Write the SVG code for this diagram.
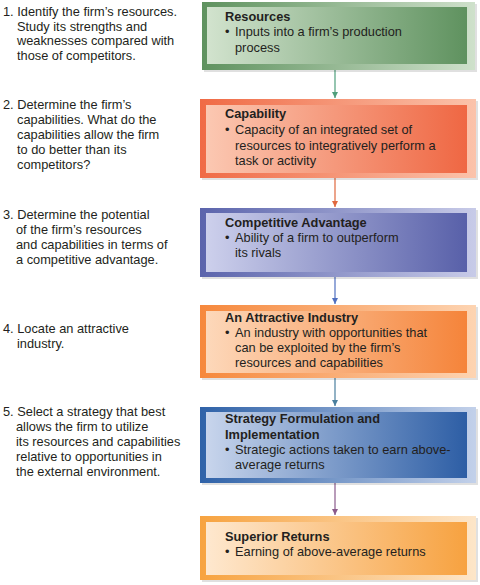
<svg xmlns="http://www.w3.org/2000/svg" width="480" height="585" viewBox="0 0 480 585">
<defs>
<linearGradient id="fG" x1="0" x2="1" y1="0" y2="0"><stop offset="0" stop-color="#5f925f"/><stop offset="1" stop-color="#cfe1cb"/></linearGradient>
<linearGradient id="iG" x1="0" x2="1" y1="0" y2="0"><stop offset="0" stop-color="#d2e3ce"/><stop offset="1" stop-color="#5f925f"/></linearGradient>
<linearGradient id="fR" x1="0" x2="1" y1="0" y2="0"><stop offset="0" stop-color="#f06a45"/><stop offset="1" stop-color="#fbc3ab"/></linearGradient>
<linearGradient id="iR" x1="0" x2="1" y1="0" y2="0"><stop offset="0" stop-color="#fbc8b2"/><stop offset="1" stop-color="#ef6743"/></linearGradient>
<linearGradient id="fP" x1="0" x2="1" y1="0" y2="0"><stop offset="0" stop-color="#5b64ac"/><stop offset="1" stop-color="#c8cbe8"/></linearGradient>
<linearGradient id="iP" x1="0" x2="1" y1="0" y2="0"><stop offset="0" stop-color="#cdd0ec"/><stop offset="1" stop-color="#5860a9"/></linearGradient>
<linearGradient id="fO" x1="0" x2="1" y1="0" y2="0"><stop offset="0" stop-color="#f6883c"/><stop offset="1" stop-color="#fdd4b2"/></linearGradient>
<linearGradient id="iO" x1="0" x2="1" y1="0" y2="0"><stop offset="0" stop-color="#fdd8ba"/><stop offset="1" stop-color="#f5843a"/></linearGradient>
<linearGradient id="fB" x1="0" x2="1" y1="0" y2="0"><stop offset="0" stop-color="#2f62a8"/><stop offset="1" stop-color="#c3d1ea"/></linearGradient>
<linearGradient id="iB" x1="0" x2="1" y1="0" y2="0"><stop offset="0" stop-color="#c8d5ec"/><stop offset="1" stop-color="#2d5ea5"/></linearGradient>
<linearGradient id="fY" x1="0" x2="1" y1="0" y2="0"><stop offset="0" stop-color="#f7a340"/><stop offset="1" stop-color="#fde6c9"/></linearGradient>
<linearGradient id="iY" x1="0" x2="1" y1="0" y2="0"><stop offset="0" stop-color="#fee8cf"/><stop offset="1" stop-color="#f7a240"/></linearGradient>
<marker id="aG" viewBox="0 0 10 10" refX="10" refY="5" markerWidth="6" markerHeight="6" markerUnits="userSpaceOnUse" orient="auto"><path d="M0,0 L10,5 L0,10 z" fill="#4f9f7c"/></marker>
<marker id="aR" viewBox="0 0 10 10" refX="10" refY="5" markerWidth="6" markerHeight="6" markerUnits="userSpaceOnUse" orient="auto"><path d="M0,0 L10,5 L0,10 z" fill="#e0683f"/></marker>
<marker id="aP" viewBox="0 0 10 10" refX="10" refY="5" markerWidth="6" markerHeight="6" markerUnits="userSpaceOnUse" orient="auto"><path d="M0,0 L10,5 L0,10 z" fill="#4f6fc0"/></marker>
<marker id="aT" viewBox="0 0 10 10" refX="10" refY="5" markerWidth="6" markerHeight="6" markerUnits="userSpaceOnUse" orient="auto"><path d="M0,0 L10,5 L0,10 z" fill="#4a7f9e"/></marker>
<marker id="aV" viewBox="0 0 10 10" refX="10" refY="5" markerWidth="6" markerHeight="6" markerUnits="userSpaceOnUse" orient="auto"><path d="M0,0 L10,5 L0,10 z" fill="#8a5a8c"/></marker>
</defs>
<style>
text { font-family: "Liberation Sans", Arial, Helvetica, sans-serif; font-size: 12.8px; fill: #231f20; }
.t { font-weight: bold; }
.sh { fill: #000; opacity: 0.12; }
.con { fill: none; stroke-width: 1.2; }
</style>
<rect width="480" height="585" fill="#fff"/>

<g id="steps">
<text x="3" y="16">1. Identify the firm’s resources.</text>
<text x="17" y="30.5">Study its strengths and</text>
<text x="17" y="45">weaknesses compared with</text>
<text x="17" y="59.5">those of competitors.</text>

<text x="3" y="108.5">2. Determine the firm’s</text>
<text x="17" y="123.5">capabilities. What do the</text>
<text x="17" y="138.5">capabilities allow the firm</text>
<text x="17" y="153.5">to do better than its</text>
<text x="17" y="168.5">competitors?</text>

<text x="3" y="218.5">3. Determine the potential</text>
<text x="16" y="233.5">of the firm’s resources</text>
<text x="16" y="248.5">and capabilities in terms of</text>
<text x="16" y="263.5">a competitive advantage.</text>

<text x="3" y="333">4. Locate an attractive</text>
<text x="17" y="348">industry.</text>

<text x="3" y="416">5. Select a strategy that best</text>
<text x="16" y="431">allows the firm to utilize</text>
<text x="16" y="446">its resources and capabilities</text>
<text x="16" y="461">relative to opportunities in</text>
<text x="16" y="476">the external environment.</text>
</g>

<g id="connectors">
<line class="con" x1="335" y1="70" x2="335" y2="98" stroke="#4f9f7c" marker-end="url(#aG)"/>
<line class="con" x1="335" y1="178" x2="335" y2="207" stroke="#e0683f" marker-end="url(#aR)"/>
<line class="con" x1="335" y1="277" x2="335" y2="304" stroke="#4f6fc0" marker-end="url(#aP)"/>
<line class="con" x1="335" y1="378" x2="335" y2="406" stroke="#4a7f9e" marker-end="url(#aT)"/>
<line class="con" x1="335" y1="483" x2="335" y2="515" stroke="#8a5a8c" marker-end="url(#aV)"/>
</g>

<g id="resources">
<rect class="sh" x="204" y="4" width="273" height="68"/>
<rect x="202" y="2" width="273" height="68" fill="url(#fG)"/>
<rect x="207" y="7" width="260" height="57" fill="url(#iG)"/>
<text class="t" x="225" y="21">Resources</text>
<text x="225" y="36">•<tspan x="235">Inputs into a firm’s production</tspan></text>
<text x="235" y="51.5">process</text>
</g>

<g id="capability">
<rect class="sh" x="202" y="101" width="276" height="79"/>
<rect x="200" y="99" width="276" height="79" fill="url(#fR)"/>
<rect x="206" y="105" width="261" height="68" fill="url(#iR)"/>
<text class="t" x="225" y="118">Capability</text>
<text x="225" y="134">•<tspan x="235">Capacity of an integrated set of</tspan></text>
<text x="235" y="149.5">resources to integratively perform a</text>
<text x="235" y="165">task or activity</text>
</g>

<g id="competitive-advantage">
<rect class="sh" x="202" y="210" width="276" height="69"/>
<rect x="200" y="208" width="276" height="69" fill="url(#fP)"/>
<rect x="206" y="213" width="261" height="59" fill="url(#iP)"/>
<text class="t" x="225" y="227">Competitive Advantage</text>
<text x="225" y="242">•<tspan x="235">Ability of a firm to outperform</tspan></text>
<text x="235" y="257">its rivals</text>
</g>

<g id="attractive-industry">
<rect class="sh" x="202" y="307" width="276" height="73"/>
<rect x="200" y="305" width="276" height="73" fill="url(#fO)"/>
<rect x="206" y="311" width="261" height="62" fill="url(#iO)"/>
<text class="t" x="225" y="322">An Attractive Industry</text>
<text x="225" y="337">•<tspan x="235">An industry with opportunities that</tspan></text>
<text x="235" y="352">can be exploited by the firm’s</text>
<text x="235" y="367">resources and capabilities</text>
</g>

<g id="strategy-formulation">
<rect class="sh" x="202" y="409" width="276" height="76"/>
<rect x="200" y="407" width="276" height="76" fill="url(#fB)"/>
<rect x="206" y="412" width="261" height="66" fill="url(#iB)"/>
<text class="t" x="225" y="423">Strategy Formulation and</text>
<text class="t" x="225" y="439">Implementation</text>
<text x="225" y="454">•<tspan x="235">Strategic actions taken to earn above-</tspan></text>
<text x="235" y="469">average returns</text>
</g>

<g id="superior-returns">
<rect class="sh" x="202" y="518" width="276" height="64"/>
<rect x="200" y="516" width="276" height="64" fill="url(#fY)"/>
<rect x="206" y="522" width="261" height="53" fill="url(#iY)"/>
<text class="t" x="225" y="541">Superior Returns</text>
<text x="225" y="556">•<tspan x="235">Earning of above-average returns</tspan></text>
</g>
</svg>
